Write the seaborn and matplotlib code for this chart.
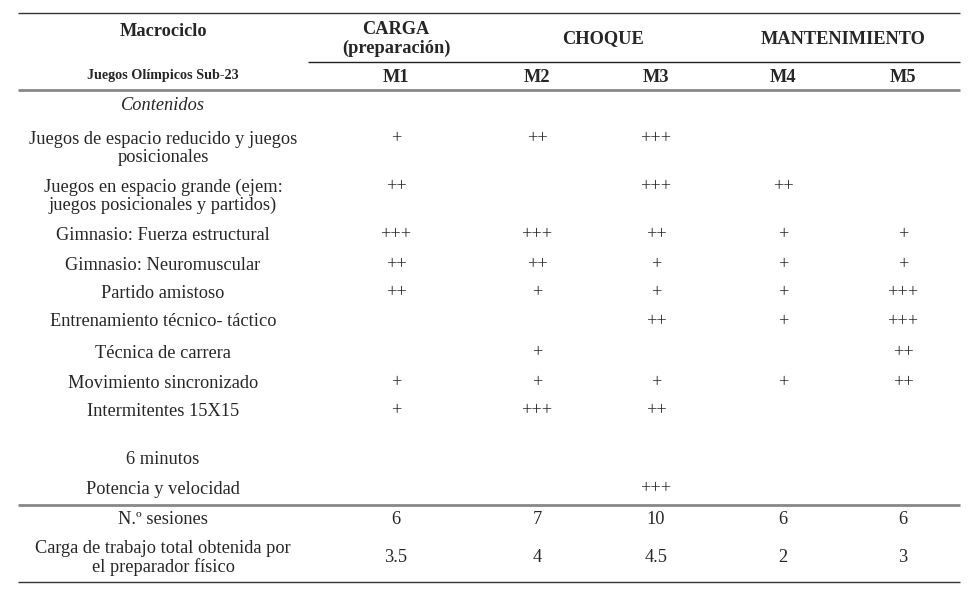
import matplotlib
matplotlib.use("Agg")
import matplotlib.pyplot as plt
import seaborn as sns

# table content
phases = ["CARGA\n(preparación)", "CHOQUE", "MANTENIMIENTO"]
mesocycles = ["M1", "M2", "M3", "M4", "M5"]
contents = [
    "Juegos de espacio reducido y juegos\nposicionales",
    "Juegos en espacio grande (ejem:\njuegos posicionales y partidos)",
    "Gimnasio: Fuerza estructural",
    "Gimnasio: Neuromuscular",
    "Partido amistoso",
    "Entrenamiento técnico- táctico",
    "Técnica de carrera",
    "Movimiento sincronizado",
    "Intermitentes 15X15",
    "6 minutos",
    "Potencia y velocidad",
]
m1 = ["+", "++", "+++", "++", "++", "", "", "+", "+", "", ""]
m2 = ["++", "", "+++", "++", "+", "", "+", "+", "+++", "", ""]
m3 = ["+++", "+++", "++", "+", "+", "++", "", "+", "++", "", "+++"]
m4 = ["", "++", "+", "+", "+", "+", "", "+", "", "", ""]
m5 = ["", "", "+", "+", "+++", "+++", "++", "++", "", "", ""]
sessions = ["6", "7", "10", "6", "6"]
workload = ["3.5", "4", "4.5", "2", "3"]

sns.set_theme(style="white")
plt.rcParams["font.family"] = ["Liberation Serif", "DejaVu Serif"]

fig = plt.figure(figsize=(9.78, 5.93), dpi=100)
ax = fig.add_axes([0, 0, 1, 1])
ax.set_xlim(0, 978)
ax.set_ylim(593, 0)
ax.axis("off")

fs = 13.2
col_x = [396, 537, 656, 783, 903]
label_x = 163
phase_x = [396, 603, 843]
row_y = [139, 187, 235, 265, 293, 322, 353, 383, 411, 460, 489]
two_line = {0, 1}

# rules
ax.hlines(13, 18, 960, color="#333333", lw=1.0)
ax.hlines(62, 308, 960, color="#222222", lw=1.0)
ax.hlines(90, 18, 960, color="#888888", lw=2.0)
ax.hlines(505, 18, 960, color="#888888", lw=2.0)
ax.hlines(582, 18, 960, color="#333333", lw=1.0)

# header
ax.text(label_x, 32, "Macrociclo", ha="center", va="center", fontsize=fs, weight="semibold")
for x, p in zip(phase_x, phases):
    ax.text(x, 39, p, ha="center", va="center", fontsize=fs, weight="semibold",
            linespacing=1.15)
ax.text(label_x, 76, "Juegos Olímpicos Sub-23", ha="center", va="center",
        fontsize=10.2, weight="semibold")
for x, m in zip(col_x, mesocycles):
    ax.text(x, 77, m, ha="center", va="center", fontsize=fs, weight="semibold")

ax.text(label_x, 105, "Contenidos", ha="center", va="center", fontsize=fs, style="italic")

# body
cols = [m1, m2, m3, m4, m5]
for i, (lab, y) in enumerate(zip(contents, row_y)):
    if i in two_line:
        ax.text(label_x, y + 9.5, lab, ha="center", va="center", fontsize=fs,
                linespacing=1.1)
    else:
        ax.text(label_x, y, lab, ha="center", va="center", fontsize=fs)
    for x, col in zip(col_x, cols):
        if col[i]:
            ax.text(x, y, col[i], ha="center", va="center", fontsize=fs)

# footer
ax.text(label_x, 520, "N.º sesiones", ha="center", va="center", fontsize=fs)
ax.text(label_x, 558, "Carga de trabajo total obtenida por\nel preparador físico",
        ha="center", va="center", fontsize=fs, linespacing=1.1)
for x, s, w in zip(col_x, sessions, workload):
    ax.text(x, 520, s, ha="center", va="center", fontsize=fs)
    ax.text(x, 558, w, ha="center", va="center", fontsize=fs)

fig.savefig("out.png", dpi=100, facecolor="white")
